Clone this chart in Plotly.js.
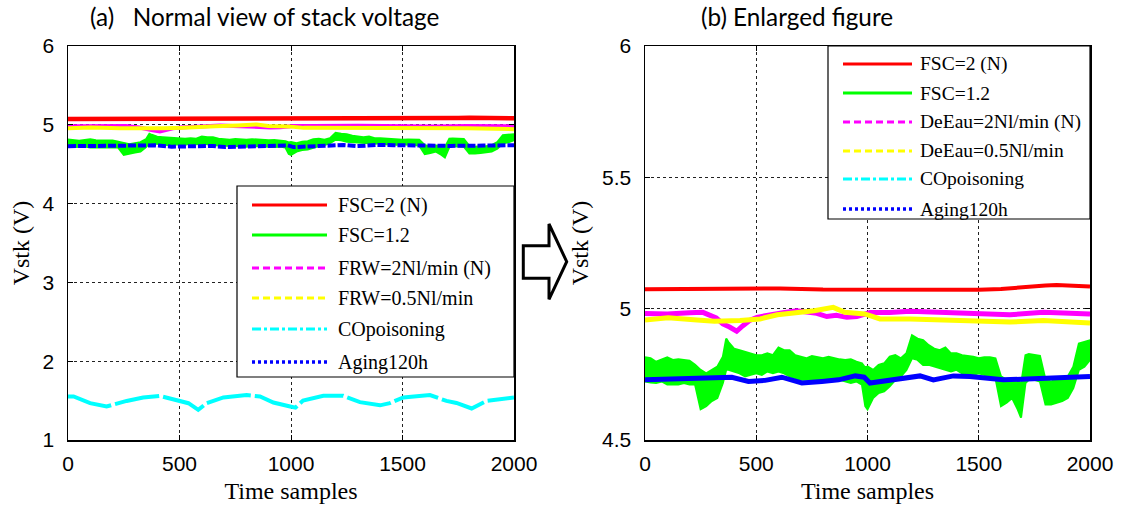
<!DOCTYPE html>
<html>
<head>
<meta charset="utf-8">
<script src="https://cdn.plot.ly/plotly-3.0.1.min.js"></script>
<style>html,body{margin:0;padding:0;background:#fff;}#chart{width:1123px;height:513px;}</style>
</head>
<body>
<div id="chart"></div>
<script>
// ---------- data ----------
const redX = [0, 200, 277, 400, 607, 800, 1000, 1200, 1400, 1500, 1600, 1650, 1700, 1750, 1800, 1850, 1900, 1950, 2000];
const redY = [5.074, 5.075, 5.078, 5.075, 5.077, 5.073, 5.072, 5.071, 5.071, 5.072, 5.075, 5.079, 5.083, 5.085, 5.088, 5.090, 5.089, 5.087, 5.084];

const greenX = [0,25,50,75,100,125,150,175,200,225,250,275,300,325,350,365,375,400,425,450,475,500,525,550,575,600,625,650,675,700,725,750,775,800,825,850,875,900,925,950,975,990,1000,1025,1050,1075,1100,1125,1150,1175,1200,1225,1250,1275,1300,1325,1350,1375,1400,1425,1450,1475,1500,1525,1550,1575,1600,1625,1650,1675,1690,1710,1725,1750,1775,1800,1825,1850,1875,1900,1925,1950,1975,2000];
const greenHi = [4.815,4.811,4.798,4.807,4.815,4.805,4.807,4.805,4.802,4.786,4.767,4.754,4.767,4.779,4.817,4.886,4.873,4.848,4.842,4.836,4.830,4.823,4.823,4.830,4.823,4.852,4.842,4.842,4.823,4.817,4.811,4.820,4.815,4.811,4.817,4.811,4.807,4.805,4.807,4.798,4.792,4.775,4.780,4.767,4.786,4.792,4.817,4.823,4.811,4.830,4.899,4.886,4.880,4.861,4.848,4.842,4.852,4.830,4.830,4.823,4.820,4.817,4.811,4.815,4.815,4.811,4.742,4.729,4.736,4.729,4.711,4.823,4.827,4.823,4.820,4.729,4.723,4.729,4.729,4.742,4.779,4.867,4.873,4.880];
const greenLo = [4.723,4.719,4.717,4.723,4.711,4.711,4.711,4.717,4.711,4.711,4.617,4.629,4.648,4.660,4.717,4.767,4.767,4.761,4.754,4.742,4.748,4.754,4.748,4.761,4.754,4.761,4.754,4.742,4.736,4.729,4.729,4.729,4.729,4.723,4.729,4.729,4.729,4.723,4.717,4.723,4.711,4.629,4.617,4.660,4.679,4.685,4.704,4.729,4.742,4.767,4.811,4.805,4.786,4.786,4.779,4.773,4.767,4.761,4.767,4.754,4.748,4.748,4.754,4.748,4.742,4.736,4.629,4.642,4.660,4.617,4.585,4.717,4.729,4.729,4.723,4.635,4.635,4.642,4.648,4.660,4.698,4.767,4.779,4.805];

const magX = [0, 100, 200, 260, 320, 350, 380, 412, 440, 470, 503, 562, 620, 682, 740, 772, 817, 860, 907, 952, 1011, 1100, 1191, 1300, 1416, 1530, 1640, 1790, 1900, 2000];
const magY = [4.982, 4.980, 4.984, 4.986, 4.965, 4.942, 4.930, 4.914, 4.935, 4.955, 4.967, 4.977, 4.985, 4.992, 4.985, 4.982, 4.970, 4.975, 4.967, 4.970, 4.985, 4.985, 4.990, 4.987, 4.985, 4.982, 4.977, 4.986, 4.982, 4.980];

const yelX = [0, 104, 234, 312, 427, 517, 595, 660, 760, 846, 898, 988, 1056, 1191, 1341, 1491, 1640, 1790, 2000];
const yelY = [4.957, 4.965, 4.957, 4.952, 4.955, 4.961, 4.977, 4.982, 4.992, 5.005, 4.986, 4.980, 4.961, 4.961, 4.957, 4.952, 4.949, 4.955, 4.945];

const cyanX = [0, 25, 99, 173, 263, 337, 412, 495, 540, 584, 621, 697, 801, 861, 921, 996, 1020, 1054, 1145, 1234, 1309, 1399, 1443, 1504, 1623, 1697, 1742, 1810, 1877, 2000];
const cyanY = [1.552, 1.552, 1.467, 1.425, 1.496, 1.539, 1.560, 1.496, 1.467, 1.383, 1.467, 1.540, 1.570, 1.552, 1.475, 1.425, 1.410, 1.500, 1.560, 1.560, 1.480, 1.440, 1.467, 1.540, 1.570, 1.496, 1.470, 1.400, 1.496, 1.540];

const bluX = [0, 90, 195, 285, 390, 465, 540, 615, 650, 705, 795, 870, 945, 985, 1011, 1116, 1236, 1296, 1386, 1461, 1536, 1610, 1716, 1865, 1985, 2000];
const bluY = [4.729, 4.732, 4.736, 4.736, 4.739, 4.723, 4.727, 4.739, 4.732, 4.717, 4.723, 4.729, 4.744, 4.739, 4.717, 4.729, 4.744, 4.729, 4.744, 4.742, 4.736, 4.729, 4.732, 4.736, 4.742, 4.742];

const xTicks = [0, 500, 1000, 1500, 2000];
const yTicksA = [1, 2, 3, 4, 5, 6];
const yTicksB = [4.5, 5, 5.5, 6];

const seriesNames = ["FSC=2 (N)", "FSC=1.2", "FRW=2Nl/min (N)", "FRW=0.5Nl/min", "COpoisoning", "Aging120h"];
const legendA = ["FSC=2 (N)", "FSC=1.2", "FRW=2Nl/min (N)", "FRW=0.5Nl/min", "COpoisoning", "Aging120h"];
const legendB = ["FSC=2 (N)", "FSC=1.2", "DeEau=2Nl/min (N)", "DeEau=0.5Nl/min", "COpoisoning", "Aging120h"];
const titleA = "(a)\u00a0\u00a0\u00a0Normal view of stack voltage";
const titleB = "(b) Enlarged figure";

// ---------- styling ----------
const W = 1123, H = 513;
const px = v => v / W;
const py = v => 1 - v / H;
const colors = ["#ff0000", "#00ff00", "#ff00ff", "#ffff00", "#00ffff", "#0000ff"];
const legDash = ["solid", "solid", "7px,4px", "7px,4px", "9px,3px,3px,3px", "3px,3px"];

function traces(xa, ya, big) {
  const out = [];
  out.push({x: redX, y: redY, xaxis: xa, yaxis: ya, mode: "lines", name: seriesNames[0], showlegend: false,
            line: {color: colors[0], width: big ? 4 : 4.5}});
  out.push({x: greenX.concat(greenX.slice().reverse()), y: greenHi.concat(greenLo.slice().reverse()),
            xaxis: xa, yaxis: ya, mode: "lines", fill: "toself", fillcolor: colors[1], name: seriesNames[1], showlegend: false,
            line: {color: colors[1], width: 2}});
  out.push({x: magX, y: magY, xaxis: xa, yaxis: ya, mode: "lines", name: seriesNames[2], showlegend: false,
            line: {color: colors[2], width: big ? 5 : 4}});
  out.push({x: yelX, y: yelY, xaxis: xa, yaxis: ya, mode: "lines", name: seriesNames[3], showlegend: false,
            line: {color: colors[3], width: big ? 5 : 4}});
  out.push({x: cyanX, y: cyanY, xaxis: xa, yaxis: ya, mode: "lines", name: seriesNames[4], showlegend: false,
            line: {color: colors[4], width: 4, dash: big ? "solid" : "45px,4px"}});
  out.push({x: bluX, y: bluY, xaxis: xa, yaxis: ya, mode: "lines", name: seriesNames[5], showlegend: false,
            line: {color: colors[5], width: big ? 5 : 4, dash: big ? "solid" : "8px,2px"}});
  return out;
}

const data = traces("x", "y", false).concat(traces("x2", "y2", true));

const tickFont = {family: "Liberation Sans, Arial, sans-serif", size: 21, color: "#000"};
const serif = "Liberation Serif, Times New Roman, serif";
const yDom = [1 - 440 / H, 1 - 46 / H];

function xAxis(dom, anchor) {
  return {domain: dom, anchor: anchor, range: [0, 2000], tickvals: xTicks, ticktext: xTicks.map(String),
    showgrid: true, gridcolor: "#222", griddash: "dot", gridwidth: 1, zeroline: false,
    showline: true, linecolor: "#000", linewidth: 1.5, mirror: "ticks", ticks: "inside", ticklen: 5, tickcolor: "#000",
    tickfont: tickFont, ticklabelstandoff: 4,
    title: {text: "Time samples", font: {family: serif, size: 24, color: "#000"}, standoff: 8}};
}
function yAxis(range, ticks, anchor) {
  return {domain: yDom, anchor: anchor, range: range, tickvals: ticks, ticktext: ticks.map(String),
    showgrid: true, gridcolor: "#222", griddash: "dot", gridwidth: 1, zeroline: false,
    showline: true, linecolor: "#000", linewidth: 1.5, mirror: "ticks", ticks: "inside", ticklen: 5, tickcolor: "#000",
    tickfont: tickFont, ticklabelstandoff: 8,
    title: {text: "Vstk (V)", font: {family: serif, size: 24, color: "#000"}, standoff: 6}};
}

const shapes = [];
const annotations = [];

function legend(labels, box, lineX0, lineX1, textX, rows, fs) {
  shapes.push({type: "rect", xref: "paper", yref: "paper", x0: px(box[0]), x1: px(box[1]), y0: py(box[3]), y1: py(box[2]),
    line: {color: "#000", width: 1.2}, fillcolor: "#fff", layer: "above"});
  labels.forEach((lab, i) => {
    shapes.push({type: "line", xref: "paper", yref: "paper", x0: px(lineX0), x1: px(lineX1), y0: py(rows[i]), y1: py(rows[i]),
      line: {color: colors[i], width: i === 5 ? 3.5 : 3, dash: legDash[i]}, layer: "above"});
    annotations.push({xref: "paper", yref: "paper", x: px(textX), y: py(rows[i]), xanchor: "left", yanchor: "middle",
      text: lab, showarrow: false, font: {family: serif, size: fs, color: "#000"}});
  });
}
legend(legendA, [237, 514, 186, 377], 252, 327, 336, [205, 235, 268, 298, 329, 362], 20);
legend(legendB, [828, 1090, 46, 219], 843, 912, 918, [64, 93, 122, 151, 179, 209], 19.5);

// arrow between panels
const arrowPts = [[523.3, 245.7], [549, 245.7], [549, 224], [566.7, 261.7], [549, 299.3], [549, 278.3], [523.3, 278.3]];
shapes.push({type: "path", xref: "paper", yref: "paper",
  path: "M " + arrowPts.map(p => px(p[0]).toFixed(5) + "," + py(p[1]).toFixed(5)).join(" L ") + " Z",
  line: {color: "#000", width: 3}, fillcolor: "#fff", layer: "above"});

annotations.push({xref: "paper", yref: "paper", x: px(88), y: py(16), xanchor: "left", yanchor: "middle", showarrow: false,
  text: titleA, font: {family: "Lato, Open Sans, sans-serif", size: 24.3, color: "#000"}});
annotations.push({xref: "paper", yref: "paper", x: px(699), y: py(16), xanchor: "left", yanchor: "middle", showarrow: false,
  text: titleB, font: {family: "Lato, Open Sans, sans-serif", size: 24.3, color: "#000"}});

const layout = {
  width: W, height: H, margin: {l: 0, r: 0, t: 0, b: 0},
  paper_bgcolor: "#fff", plot_bgcolor: "#fff", showlegend: false,
  xaxis: xAxis([68 / W, 514 / W], "y"),
  yaxis: yAxis([1, 6], yTicksA, "x"),
  xaxis2: xAxis([645 / W, 1090 / W], "y2"),
  yaxis2: yAxis([4.5, 6], yTicksB, "x2"),
  shapes: shapes, annotations: annotations
};

Plotly.newPlot("chart", data, layout, {displayModeBar: false, staticPlot: true});
</script>
</body>
</html>
